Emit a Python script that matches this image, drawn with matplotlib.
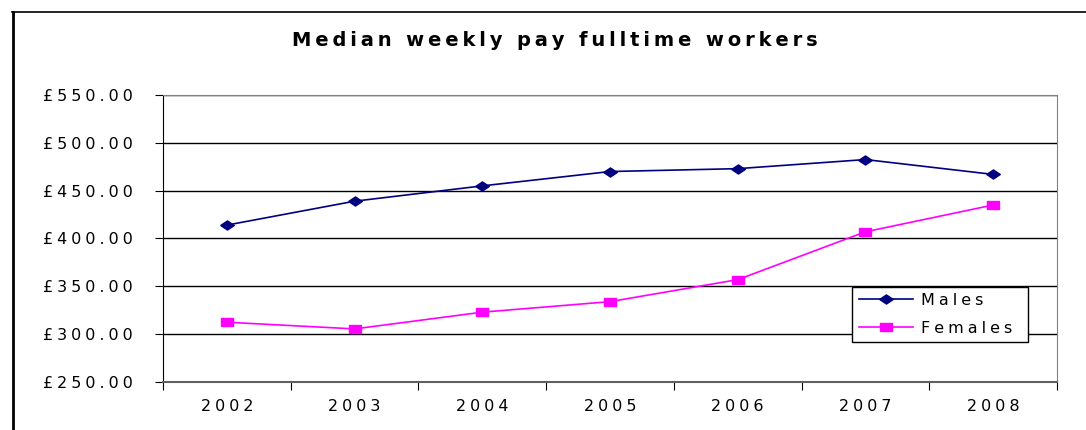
import matplotlib.pyplot as plt
from matplotlib.lines import Line2D
from matplotlib.path import Path
from matplotlib.ticker import FuncFormatter, FixedLocator

plt.rcParams['font.family'] = ['DejaVu Sans']

years = ['2002', '2003', '2004', '2005', '2006', '2007', '2008']
males = [414, 439, 455, 470, 473, 482.5, 467]
females = [312.5, 305.5, 323, 334, 357, 407, 435]

# the original picture is stretched sideways; imitate the wide text with
# narrow spaces between letters and use flattened markers
GAP = '\u2005'
TGAP = '\u2009'


def spaced(s, gap=GAP):
    return gap.join(s)


flat_diamond = Path([(-1, 0), (0, 0.67), (1, 0), (0, -0.67), (-1, 0)])
flat_square = Path([(-1, -0.7), (1, -0.7), (1, 0.7), (-1, 0.7), (-1, -0.7)])

fig = plt.figure(figsize=(10.86, 4.3), dpi=100)
ax = fig.add_axes([0.1501, 0.1116, 0.8232, 0.6675])

x = list(range(len(years)))
ax.plot(x, males, color='#000080', lw=1.2, marker=flat_diamond,
        markersize=9.8, label=spaced('Males'))
ax.plot(x, females, color='#FF00FF', lw=1.2, marker=flat_square,
        markersize=8.5, label=spaced('Females'))

ax.set_ylim(250, 550)
ax.set_yticks(range(250, 551, 50))
ax.yaxis.set_major_formatter(
    FuncFormatter(lambda v, p: spaced('£{:.2f}'.format(v))))
ax.grid(axis='y', color='black', lw=1)
ax.set_axisbelow(True)

ax.set_xlim(-0.5, len(years) - 0.5)
ax.xaxis.set_major_locator(FixedLocator([i - 0.5 for i in range(len(years) + 1)]))
ax.xaxis.set_minor_locator(FixedLocator(x))
ax.set_xticklabels([], minor=False)
ax.set_xticklabels([spaced(y) for y in years], minor=True)
ax.tick_params(axis='x', which='major', direction='out', length=6, color='black')
ax.tick_params(axis='x', which='minor', length=0, pad=12, labelsize=11.5)
ax.tick_params(axis='y', direction='out', length=6, pad=15.6, labelsize=11.5)

for s in ['top', 'right']:
    ax.spines[s].set_color('#808080')
ax.spines['bottom'].set_color('#606060')
ax.spines['bottom'].set_linewidth(1.5)
ax.spines['left'].set_color('black')

leg = ax.legend(loc='lower left', bbox_to_anchor=(0.771, 0.139, 0.197, 0.192),
                mode='expand', fancybox=False, edgecolor='black',
                fontsize=11.5, borderaxespad=0, handlelength=3.4,
                handletextpad=0.5, borderpad=0.4, labelspacing=0.8,
                framealpha=1)
leg.get_frame().set_linewidth(1)

fig.text(0.511, 0.905, spaced('Median weekly pay fulltime workers', TGAP),
         ha='center', va='center', fontsize=14, fontweight='bold')

# outer chart border (left and top edges visible)
fig.add_artist(Line2D([0.012, 0.012], [0, 0.972], color='black', lw=2,
                      transform=fig.transFigure))
fig.add_artist(Line2D([0.011, 1], [0.972, 0.972], color='black', lw=1.2,
                      transform=fig.transFigure))

plt.savefig('out.png', dpi=100)
